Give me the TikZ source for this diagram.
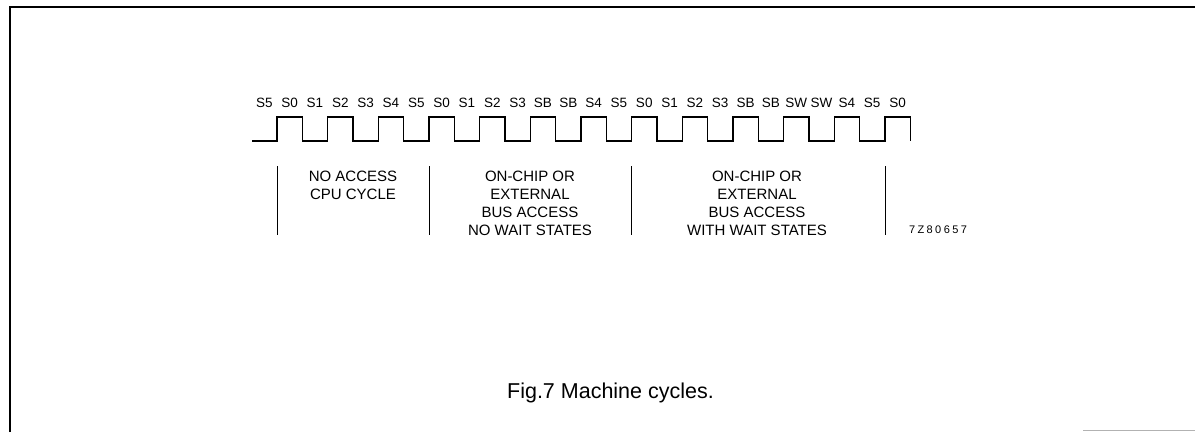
\documentclass[tikz,border=0pt]{standalone}
\usepackage{fontspec}
\setmainfont{Liberation Sans}
\begin{document}
\begin{tikzpicture}[x=1pt,y=-1pt,
  wave/.style={line width=1.5pt,line join=miter},
  divider/.style={line width=1pt},
  frameline/.style={line width=2pt},
  statelbl/.style={inner sep=0pt,anchor=base,font=\fontsize{13.5}{16}\selectfont},
  blocktext/.style={inner sep=0pt,anchor=north,align=center,font=\fontsize{15}{18}\selectfont},
  codetext/.style={inner sep=0pt,anchor=base,font=\fontsize{11}{13}\selectfont\addfontfeature{LetterSpace=22}},
  captiontext/.style={inner sep=0pt,anchor=base,font=\fontsize{21.5}{26}\selectfont}]
\useasboundingbox (0,0) rectangle (1195,432);
% frame
\draw[frameline] (10,432) -- (10,7) -- (1195,7);
\draw[gray!60,line width=1pt] (1083,430.7) -- (1195,430.7);
% waveform
\draw[wave] (252,141)
  \foreach \k in {0,...,12}{
    -- ({277+\k*50.67},141) -- ({277+\k*50.67},117)
    -- ({302.33+\k*50.67},117) -- ({302.33+\k*50.67},141)};
% state labels
\foreach \t [count=\j from 0] in {S5,S0,S1,S2,S3,S4,S5,S0,S1,S2,S3,SB,SB,S4,S5,S0,S1,S2,S3,SB,SB,SW,SW,S4,S5,S0}{
  \node[statelbl] (l\j) at ({264.3+\j*25.33},107) {\t};
}
% dividers
\foreach \x [count=\i] in {277,429,631.7,885}{
  \coordinate (dt\i) at (\x,166);
  \coordinate (db\i) at (\x,235);
  \draw[divider] (dt\i) -- (db\i);
}
% block texts
\node[blocktext] (t1) at (353,170.5) {NO ACCESS\\CPU CYCLE};
\node[blocktext] (t2) at (530,170.5) {ON-CHIP OR\\EXTERNAL\\BUS ACCESS\\NO WAIT STATES};
\node[blocktext] (t3) at (757,170.5) {ON-CHIP OR\\EXTERNAL\\BUS ACCESS\\WITH WAIT STATES};
\node[codetext] (code) at (938,233) {7Z80657};
\node[captiontext] (cap) at (610.5,398) {Fig.7 Machine cycles.};
\end{tikzpicture}
\end{document}
